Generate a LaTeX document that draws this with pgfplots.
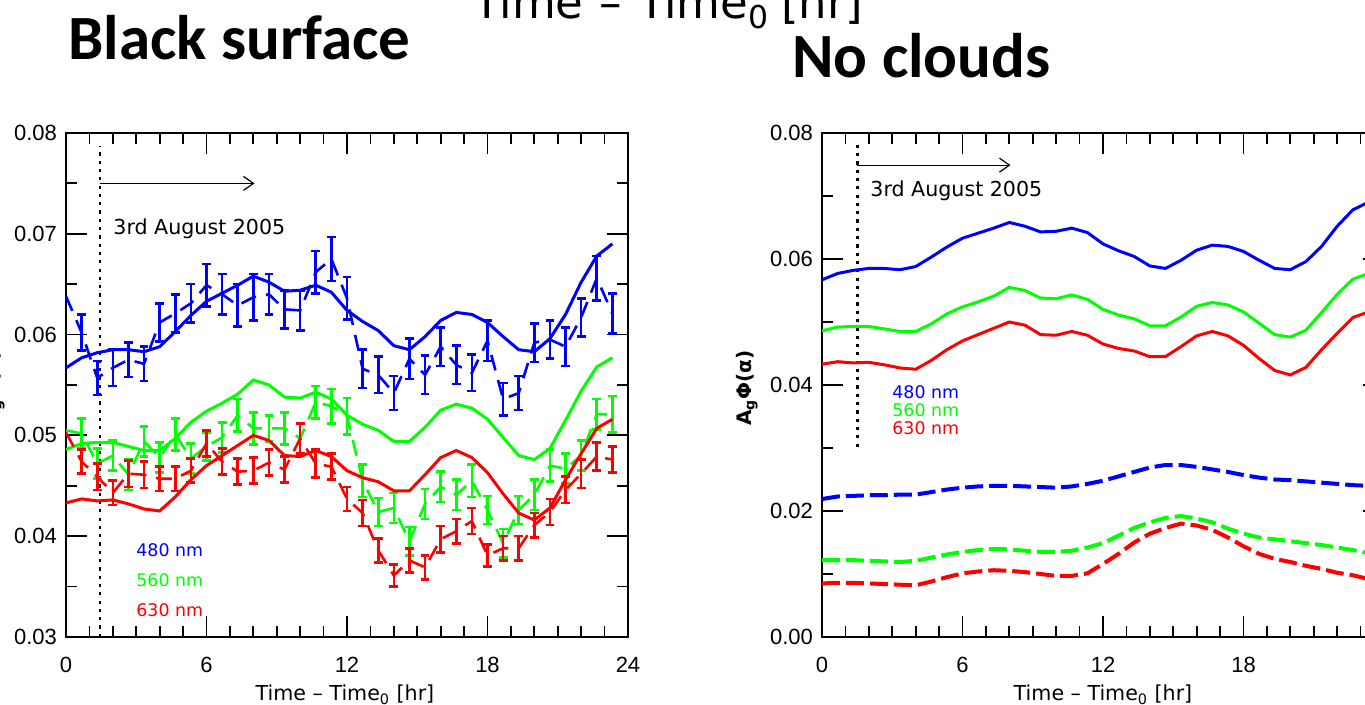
\documentclass[border=0pt]{standalone}
\usepackage{pgfplots}
\pgfplotsset{compat=1.18}
\usepackage{pgfplotstable}
\usepackage{fontspec}
\setmainfont{DejaVu Sans}
\newfontfamily\calibri{Carlito}
\newfontfamily\arial{Liberation Sans}
\usetikzlibrary{arrows.meta}

% t = hours since Time0; b/g/r = observed (black surface), be/ge/re = errors
% mb/mg/mr = model curves, db/dg/dr = no-cloud dashed curves
\pgfplotstableread{
t      b      be     g      ge     r      re     mb     mg     mr     db     dg     dr
0      0.0638 0.0020 0.0505 0.0015 0.0503 0.0013 0.0567 0.0486 0.0433 0.0219 0.0122 0.0085
0.667  0.0602 0.0018 0.0502 0.0015 0.0474 0.0012 0.0577 0.0492 0.0437 0.0223 0.0122 0.0086
1.333  0.0557 0.0017 0.0472 0.0015 0.0459 0.0013 0.0582 0.0493 0.0435 0.0224 0.0122 0.0086
2      0.0567 0.0018 0.0480 0.0015 0.0443 0.0012 0.0585 0.0493 0.0436 0.0225 0.0121 0.0085
2.667  0.0575 0.0017 0.0461 0.0015 0.0462 0.0013 0.0585 0.0489 0.0432 0.0225 0.0120 0.0084
3.333  0.0571 0.0017 0.0494 0.0015 0.0461 0.0013 0.0583 0.0485 0.0427 0.0226 0.0119 0.0083
4      0.0612 0.0019 0.0478 0.0015 0.0457 0.0012 0.0588 0.0485 0.0425 0.0226 0.0121 0.0082
4.667  0.0621 0.0019 0.0501 0.0016 0.0457 0.0012 0.0603 0.0497 0.0439 0.0230 0.0126 0.0088
5.333  0.0631 0.0019 0.0477 0.0015 0.0465 0.0012 0.0619 0.0513 0.0456 0.0234 0.0131 0.0095
6      0.0649 0.0021 0.0489 0.0014 0.0492 0.0013 0.0633 0.0524 0.0470 0.0237 0.0135 0.0101
6.667  0.0640 0.0020 0.0498 0.0015 0.0474 0.0013 0.0641 0.0532 0.0480 0.0239 0.0138 0.0104
7.333  0.0629 0.0021 0.0520 0.0016 0.0464 0.0013 0.0649 0.0541 0.0490 0.0240 0.0140 0.0106
8      0.0637 0.0023 0.0507 0.0016 0.0465 0.0013 0.0658 0.0555 0.0500 0.0240 0.0139 0.0105
8.667  0.0640 0.0020 0.0507 0.0013 0.0473 0.0013 0.0652 0.0550 0.0495 0.0239 0.0137 0.0103
9.333  0.0625 0.0019 0.0507 0.0016 0.0466 0.0013 0.0643 0.0538 0.0480 0.0238 0.0135 0.0100
10     0.0624 0.0020 0.0497 0.0015 0.0497 0.0015 0.0644 0.0537 0.0479 0.0237 0.0135 0.0097
10.667 0.0662 0.0021 0.0533 0.0016 0.0472 0.0014 0.0649 0.0543 0.0485 0.0239 0.0137 0.0097
11.333 0.0675 0.0022 0.0529 0.0017 0.0469 0.0013 0.0642 0.0536 0.0479 0.0243 0.0142 0.0101
12     0.0636 0.0021 0.0519 0.0018 0.0437 0.0012 0.0624 0.0520 0.0465 0.0248 0.0149 0.0116
12.667 0.0566 0.0019 0.0455 0.0016 0.0423 0.0013 0.0613 0.0511 0.0458 0.0255 0.0161 0.0132
13.333 0.0560 0.0018 0.0424 0.0014 0.0386 0.0012 0.0604 0.0505 0.0454 0.0262 0.0173 0.0150
14     0.0542 0.0017 0.0428 0.0015 0.0361 0.0011 0.0589 0.0494 0.0445 0.0269 0.0182 0.0164
14.667 0.0576 0.0020 0.0395 0.0014 0.0376 0.0012 0.0585 0.0494 0.0445 0.0273 0.0189 0.0173
15.333 0.0560 0.0019 0.0432 0.0015 0.0369 0.0012 0.0598 0.0508 0.0461 0.0273 0.0192 0.0180
16     0.0588 0.0019 0.0449 0.0015 0.0397 0.0013 0.0614 0.0525 0.0478 0.0270 0.0188 0.0177
16.667 0.0570 0.0019 0.0441 0.0015 0.0405 0.0012 0.0622 0.0531 0.0485 0.0266 0.0182 0.0170
17.333 0.0562 0.0018 0.0455 0.0016 0.0415 0.0013 0.0620 0.0527 0.0478 0.0262 0.0172 0.0158
18     0.0594 0.0020 0.0426 0.0014 0.0381 0.0011 0.0612 0.0516 0.0463 0.0257 0.0164 0.0144
18.667 0.0536 0.0016 0.0393 0.0014 0.0388 0.0012 0.0598 0.0498 0.0442 0.0253 0.0158 0.0132
19.333 0.0542 0.0017 0.0426 0.0014 0.0388 0.0012 0.0585 0.0480 0.0423 0.0250 0.0155 0.0124
20     0.0592 0.0019 0.0441 0.0015 0.0411 0.0012 0.0583 0.0476 0.0416 0.0249 0.0152 0.0119
20.667 0.0595 0.0019 0.0470 0.0016 0.0424 0.0013 0.0596 0.0487 0.0428 0.0247 0.0149 0.0113
21.333 0.0588 0.0019 0.0467 0.0015 0.0446 0.0013 0.0620 0.0515 0.0456 0.0245 0.0146 0.0108
22     0.0617 0.0019 0.0480 0.0015 0.0462 0.0014 0.0652 0.0544 0.0482 0.0243 0.0142 0.0102
22.667 0.0656 0.0022 0.0521 0.0015 0.0479 0.0014 0.0678 0.0568 0.0507 0.0241 0.0138 0.0098
23.333 0.0621 0.0020 0.0521 0.0018 0.0476 0.0013 0.0690 0.0577 0.0516 0.0240 0.0133 0.0092
}\obs

\pgfplotsset{
  idl/.style={
    scale only axis, width=281pt, height=252pt, anchor=south west,
    xmin=0, xmax=24, xtick={0,6,12,18,24}, minor x tick num=5,
    tick align=inside, xtick pos=both, ytick pos=both,
    major tick length=10.5pt, minor tick length=5.5pt,
    axis line style={line width=1pt},
    major tick style={line width=0.9pt, black},
    minor tick style={line width=0.9pt, black},
    tick label style={font=\arial\fontsize{11}{13}\selectfont},
    /pgf/number format/assume math mode=true,
    scaled y ticks=false,
    yticklabel style={/pgf/number format/fixed, /pgf/number format/fixed zerofill,
      /pgf/number format/precision=2, xshift=-1pt},
    xticklabel style={yshift=-6.5pt},
  },
  obs/.style={line width=1.3pt, dash pattern=on 8pt off 5pt},
  bars/.style={draw=none, forget plot, skip coords between index={0}{1},
    error bars/.cd, y dir=both, y explicit,
    error bar style={#1, solid, line width=1.3pt},
    error mark options={#1, solid, line width=1.3pt, mark size=2.2pt, rotate=90}},
  model/.style={line width=1.5pt},
  nocl/.style={line width=2pt, dash pattern=on 9pt off 3pt},
}

\begin{document}
\begin{tikzpicture}
\useasboundingbox (0,0) rectangle (682.5pt,352.5pt);

% left panel: black surface
\begin{axis}[idl, at={(33pt,34pt)}, ymin=0.03, ymax=0.08,
  ytick={0.03,0.04,0.05,0.06,0.07,0.08}, minor y tick num=1]
\addplot[black, line width=1.4pt, dash pattern=on 1.6pt off 2.55pt] coordinates {(1.45,0.03) (1.45,0.0787)};
\draw[line width=0.6pt, -{Straight Barb[length=5pt,width=7pt]}] (axis cs:1.45,0.0750) -- (axis cs:8.05,0.0750);
\addplot[blue, obs] table[x=t, y=b] {\obs};
\addplot[bars=blue] table[x=t, y=b, y error=be] {\obs};
\addplot[blue, model] table[x=t, y=mb] {\obs};
\addplot[green, obs] table[x=t, y=g] {\obs};
\addplot[bars=green] table[x=t, y=g, y error=ge] {\obs};
\addplot[green, model] table[x=t, y=mg] {\obs};
\addplot[red, obs] table[x=t, y=r] {\obs};
\addplot[bars=red] table[x=t, y=r, y error=re] {\obs};
\addplot[red, model] table[x=t, y=mr] {\obs};
\end{axis}

% right panel: no clouds
\begin{axis}[idl, at={(411pt,34pt)}, ymin=0, ymax=0.08,
  ytick={0,0.02,0.04,0.06,0.08}, minor y tick num=1]
\addplot[black, line width=1.4pt, dash pattern=on 1.6pt off 2.55pt] coordinates {(1.5,0.0302) (1.5,0.0786)};
\draw[line width=0.6pt, -{Straight Barb[length=5pt,width=7pt]}] (axis cs:1.5,0.0749) -- (axis cs:8.05,0.0749);
\addplot[blue, model] table[x=t, y=mb] {\obs};
\addplot[green, model] table[x=t, y=mg] {\obs};
\addplot[red, model] table[x=t, y=mr] {\obs};
\addplot[blue, nocl] table[x=t, y=db] {\obs};
\addplot[green, nocl] table[x=t, y=dg] {\obs};
\addplot[red, nocl] table[x=t, y=dr] {\obs};
\end{axis}

% annotations
\node[anchor=base west, inner sep=0, font=\fontsize{10.3}{12}\selectfont] at (56.5pt,235pt) {3rd August 2005};
\node[anchor=base west, inner sep=0, font=\fontsize{10.3}{12}\selectfont] at (435pt,254pt) {3rd August 2005};
\begin{scope}[every node/.style={anchor=base west, inner sep=0, font=\fontsize{8.7}{10}\selectfont}]
\node[blue]  at (68pt,74pt) {480 nm};
\node[green] at (68pt,59pt) {560 nm};
\node[red]   at (68pt,44pt) {630 nm};
\node[blue]  at (446pt,153.3pt) {480 nm};
\node[green] at (446pt,144.2pt) {560 nm};
\node[red]   at (446pt,135pt) {630 nm};
\end{scope}
\node[rotate=90, font=\bfseries\fontsize{10}{12}\selectfont] at (373.5pt,158.5pt) {A\textsubscript{g}Φ(α)};
\node[rotate=90, font=\bfseries\fontsize{10}{12}\selectfont] at (-3pt,158.5pt) {A\textsubscript{g}Φ(α)};
\node[anchor=base, inner sep=0, font=\fontsize{10.3}{12}\selectfont] at (172.5pt,2pt) {Time – Time\textsubscript{0} [hr]};
\node[anchor=base, inner sep=0, font=\fontsize{10.3}{12}\selectfont] at (551.5pt,2pt) {Time – Time\textsubscript{0} [hr]};
\node[anchor=base west, inner sep=0, font=\fontsize{22.5}{26}\selectfont] at (236.5pt,343pt) {Time\hspace{8pt}–\hspace{8pt}Time\textsubscript{0}\hspace{6pt}[hr]};
\node[anchor=base west, inner sep=0, font=\calibri\bfseries\fontsize{31.5}{36}\selectfont] at (34pt,322.5pt) {Black surface};
\node[anchor=base west, inner sep=0, font=\calibri\bfseries\fontsize{31.5}{36}\selectfont] at (396pt,313.5pt) {No clouds};
\end{tikzpicture}
\end{document}
